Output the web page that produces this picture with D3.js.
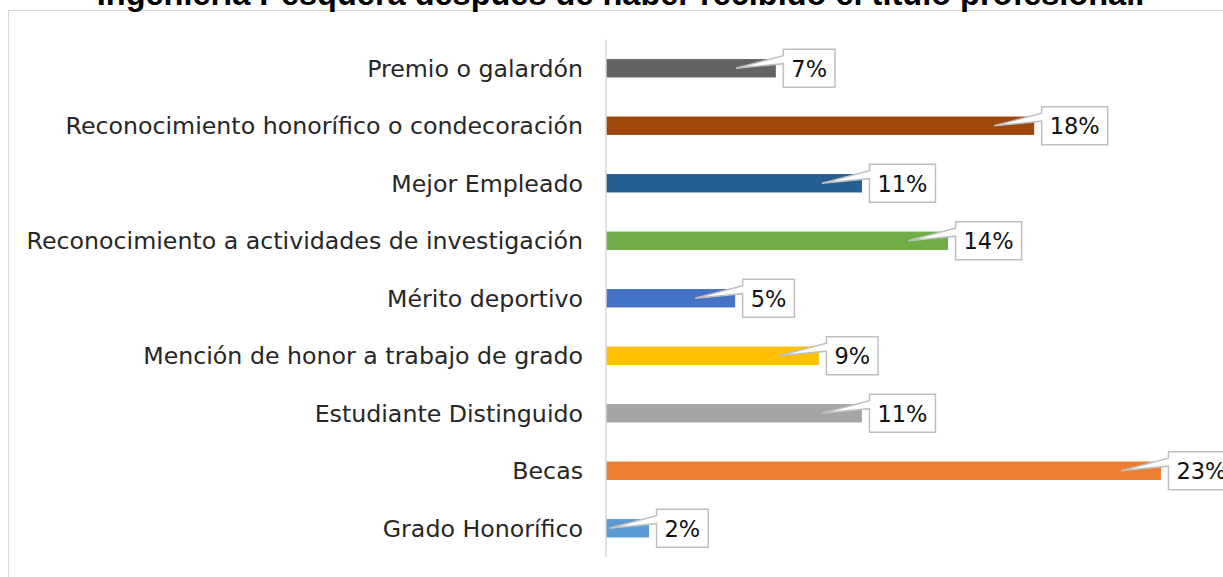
<!DOCTYPE html>
<html>
<head>
<meta charset="utf-8">
<script src="https://cdn.jsdelivr.net/npm/d3@7"></script>
<style>
  html, body { margin: 0; padding: 0; background: #fff; overflow: hidden; }
</style>
</head>
<body>
<svg id="chart" width="1223" height="577"></svg>
<script>
// ── DATA ─────────────────────────────────────────────────────
const titleText = "Ingeniería Pesquera después de haber recibido el título profesional.";

const categories = [
  "Premio o galardón",
  "Reconocimiento honorífico o condecoración",
  "Mejor Empleado",
  "Reconocimiento a actividades de investigación",
  "Mérito deportivo",
  "Mención de honor a trabajo de grado",
  "Estudiante Distinguido",
  "Becas",
  "Grado Honorífico"
];

// share of respondents, in %
const values = [7.1, 17.9, 10.7, 14.3, 5.4, 8.9, 10.7, 23.2, 1.8];

const barColors = [
  "#636363", "#9e480e", "#255e91", "#70ad47", "#4472c4",
  "#ffc000", "#a5a5a5", "#ed7d31", "#5b9bd5"
];

const data = categories.map((c, i) => ({ label: c, value: values[i], color: barColors[i] }));

// ── LAYOUT ───────────────────────────────────────────────────
const svg = d3.select("#chart");

const xScale = d3.scaleLinear()
  .domain([0, 25])
  .range([606, 1204]);

const yScale = d3.scaleBand()
  .domain(categories)
  .range([39.5, 557])
  .paddingInner(0.68)
  .paddingOuter(0.34);

// chart frame
svg.append("rect")
  .attr("x", 8.5)
  .attr("y", 10.5)
  .attr("width", 1240)
  .attr("height", 600)
  .attr("fill", "none")
  .attr("stroke", "#d9d9d9")
  .attr("stroke-width", 1);

// title (top of it is cut off in the source)
svg.append("text")
  .attr("x", 620.5)
  .attr("y", 5)
  .attr("text-anchor", "middle")
  .style("font-family", "'Liberation Sans', Arial, sans-serif")
  .style("font-weight", "700")
  .style("font-size", "32.5px")
  .attr("fill", "#000")
  .text(titleText);

// ── CATEGORY LABELS ──────────────────────────────────────────
svg.append("g")
  .selectAll("text")
  .data(data)
  .join("text")
    .attr("x", 583)
    .attr("y", d => yScale(d.label) + yScale.bandwidth() / 2)
    .attr("dy", "0.36em")
    .attr("text-anchor", "end")
    .attr("fill", "#262626")
    .style("font-family", "'DejaVu Sans', sans-serif")
    .style("font-size", "23.7px")
    .text(d => d.label);

// ── BARS ─────────────────────────────────────────────────────
svg.append("g")
  .selectAll("rect")
  .data(data)
  .join("rect")
    .attr("x", xScale(0))
    .attr("y", d => yScale(d.label))
    .attr("width", d => xScale(d.value) - xScale(0))
    .attr("height", yScale.bandwidth())
    .attr("fill", d => d.color);

// axis line
svg.append("line")
  .attr("x1", xScale(0))
  .attr("x2", xScale(0))
  .attr("y1", yScale.range()[0])
  .attr("y2", yScale.range()[1])
  .attr("stroke", "#d9d9d9")
  .attr("stroke-width", 1.5);

// ── CALLOUTS ─────────────────────────────────────────────────
const boxH = 38;
const padX = 8;

const callouts = svg.append("g")
  .selectAll("g")
  .data(data)
  .join("g");

// text first so we can measure it
callouts.append("text")
  .attr("class", "callout-text")
  .attr("text-anchor", "middle")
  .attr("dy", "0.37em")
  .attr("fill", "#111")
  .style("font-family", "'DejaVu Sans', sans-serif")
  .style("font-size", "22.5px")
  .text(d => Math.round(d.value) + "%");

callouts.each(function(d) {
  const g = d3.select(this);
  const txt = g.select("text");
  const w = txt.node().getComputedTextLength() + 2 * padX;
  const barEnd = xScale(d.value);
  const cy = yScale(d.label) + yScale.bandwidth() / 2;
  const x0 = barEnd + 7.5;
  const y0 = cy - boxH / 2;
  const tipX = barEnd - 40;

  const path = d3.path();
  path.moveTo(x0, y0);
  path.lineTo(x0 + w, y0);
  path.lineTo(x0 + w, y0 + boxH);
  path.lineTo(x0, y0 + boxH);
  path.lineTo(x0, y0 + boxH * 0.38);
  path.lineTo(tipX, cy);
  path.lineTo(x0, y0 + boxH * 0.17);
  path.closePath();

  g.insert("path", "text")
    .attr("d", path.toString())
    .attr("fill", "#fff")
    .attr("stroke", "#bfbfbf")
    .attr("stroke-width", 1.5)
    .attr("stroke-linejoin", "miter");

  txt.attr("x", x0 + w / 2).attr("y", cy);
});
</script>
</body>
</html>
